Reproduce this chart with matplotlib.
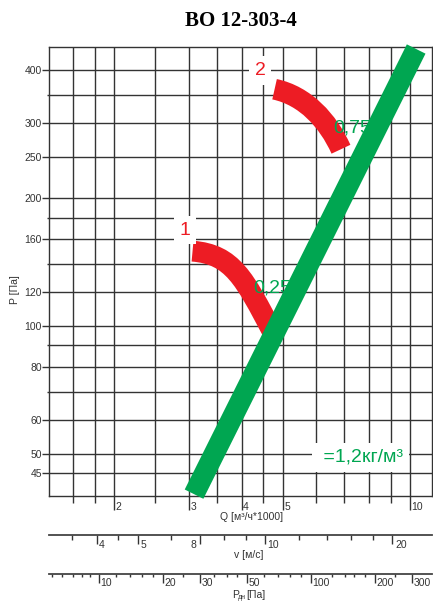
import matplotlib
matplotlib.use('Agg')
import matplotlib.pyplot as plt
from matplotlib.path import Path
from matplotlib.patches import PathPatch
from matplotlib.ticker import FixedLocator, FixedFormatter, NullFormatter
from matplotlib.transforms import blended_transform_factory, offset_copy

plt.rcParams['font.family'] = ['Liberation Sans', 'DejaVu Sans']

# Q grid [m3/h*1000] and P grid [Pa]
q_major = [2, 3, 4, 5, 10]
q_minor = [1.6, 1.8, 2.5, 3.5, 4.5, 6, 7, 8, 9]
p_major = [45, 50, 60, 80, 100, 120, 160, 200, 250, 300, 400]
p_minor = [70, 90, 140, 180, 350]

# velocity scale [m/s]
v_major = [4, 5, 7, 10, 20]
v_labels = ['4', '5', '8', '10', '20']
v_label_ha = ['left', 'left', 'right', 'left', 'left']
v_minor = [3.5, 4.5, 6, 8, 9, 12, 14, 16, 18]

# dynamic pressure scale [Pa]
pd_major = [10, 20, 30, 50, 100, 200, 300]
pd_minor = [6, 6.7, 7.5, 8.3, 9.1, 12, 14, 16, 18, 25, 35, 40, 45,
            60, 70, 80, 90, 125, 145, 160, 180, 250]

# system line (rho = 1.2 kg/m3)
sys_q = [3.087, 10.34]
sys_p = [40.2, 448.6]

# fan curves: start, two bezier handles, end
curve1_q = [3.062, 3.805, 4.065, 4.733]
curve1_p = [150.0, 147.5, 129.1, 96.8]
curve2_q = [4.785, 5.656, 6.398, 6.867]
curve2_p = [360.7, 348.3, 304.3, 260.6]

RED = '#ED1C24'
GREEN = '#00A651'
GRID = '#333333'
TXT = '#333333'

W, H = 433, 601
fig = plt.figure(figsize=(W / 100, H / 100), dpi=100)

ax = fig.add_axes([49 / W, 1 - 496 / H, 383 / W, 449 / H])
ax.set_xscale('log')
ax.set_yscale('log')
ax.set_xlim(1.402, 11.27)
ax.set_ylim(39.8, 453.5)

ax.xaxis.set_major_locator(FixedLocator(q_major))
ax.xaxis.set_minor_locator(FixedLocator(q_minor))
ax.xaxis.set_major_formatter(NullFormatter())
ax.xaxis.set_minor_formatter(NullFormatter())
ax.yaxis.set_major_locator(FixedLocator(p_major))
ax.yaxis.set_major_formatter(FixedFormatter([str(p) for p in p_major]))
ax.yaxis.set_minor_locator(FixedLocator(p_minor))
ax.yaxis.set_minor_formatter(NullFormatter())

ax.grid(True, which='both', color=GRID, lw=1.0)
ax.tick_params(axis='x', which='major', length=10, width=1, color=GRID)
ax.tick_params(axis='x', which='minor', length=4.8, width=1, color=GRID)
ax.tick_params(axis='y', which='major', length=4.7, width=1, color=GRID,
               labelsize=7.5, labelcolor=TXT, pad=0.5)
ax.tick_params(axis='y', which='minor', length=1.7, width=1, color=GRID)
for s in ax.spines.values():
    s.set_color(GRID)
    s.set_linewidth(1.0)

# Q tick labels
qtrans = offset_copy(ax.get_xaxis_transform(), fig=fig, x=1.5, y=0, units='dots')
for q in q_major:
    ax.text(q, -14 / 449, str(q), transform=qtrans, ha='left', va='baseline',
            fontsize=7.5, color=TXT)
fig.text(252 / W, 1 - 517 / H, 'Q [м³/ч*1000]', ha='center', va='center',
         fontsize=7.5, color=TXT)

# curves
codes = [Path.MOVETO, Path.CURVE4, Path.CURVE4, Path.CURVE4]
for cq, cp in [(curve1_q, curve1_p), (curve2_q, curve2_p)]:
    path = Path(list(zip(cq, cp)), codes)
    ax.add_patch(PathPatch(path, fill=False, ec=RED, lw=15, capstyle='butt',
                           joinstyle='round', zorder=3))
ax.text(4.256, 119.6, '0,25', color=GREEN, fontsize=14, ha='left',
        va='baseline', zorder=4)
ax.text(6.58, 286, '0,75', color=GREEN, fontsize=14, ha='left',
        va='baseline', zorder=4)
ax.plot(sys_q, sys_p, color=GREEN, lw=15, solid_capstyle='butt', zorder=5,
        clip_on=False)

box = dict(boxstyle='square,pad=0.3', fc='white', ec='none')
ax.text(2.940, 168.2, '1', color=RED, fontsize=14, ha='center', va='center',
        bbox=box, zorder=6)
ax.text(4.421, 399.3, '2', color=RED, fontsize=14, ha='center', va='center',
        bbox=box, zorder=6)
ax.text(6.05, 47.86, ' =1,2кг/м³', color=GREEN, fontsize=14, ha='left',
        va='baseline', bbox=box, zorder=6)

# velocity scale
ax_v = fig.add_axes([49 / W, 1 - 534.7 / H, 383 / W, 0.0001])
ax_v.set_xscale('log')
ax_v.set_xlim(1.402 / 0.4544, 11.27 / 0.4544)
ax_v.set_yticks([])
ax_v.patch.set_visible(False)
for k in ['top', 'left', 'right']:
    ax_v.spines[k].set_visible(False)
ax_v.spines['bottom'].set_color('#444444')
ax_v.spines['bottom'].set_linewidth(1.3)
ax_v.xaxis.set_major_locator(FixedLocator(v_major))
ax_v.xaxis.set_minor_locator(FixedLocator(v_minor))
ax_v.xaxis.set_major_formatter(NullFormatter())
ax_v.xaxis.set_minor_formatter(NullFormatter())
ax_v.tick_params(axis='x', which='major', length=6.7, width=1, color=GRID)
ax_v.tick_params(axis='x', which='minor', length=3.3, width=1, color=GRID)
vt = blended_transform_factory(ax_v.transData, fig.transFigure)
for v, lab, ha in zip(v_major, v_labels, v_label_ha):
    dx = 2.5 if ha == 'left' else -3
    ax_v.text(v, 1 - 548.3 / H, lab, transform=offset_copy(vt, fig=fig, x=dx, y=0, units='dots'),
              ha=ha, va='baseline', fontsize=7.5, color=TXT)
fig.text(249 / W, 1 - 555 / H, 'v [м/с]', ha='center', va='center',
         fontsize=7.5, color=TXT)

# dynamic pressure scale
ax_p = fig.add_axes([49 / W, 1 - 574 / H, 383 / W, 0.0001])
ax_p.set_xscale('log')
ax_p.set_xlim(5.809, 372.2)
ax_p.set_yticks([])
ax_p.patch.set_visible(False)
for k in ['top', 'left', 'right']:
    ax_p.spines[k].set_visible(False)
ax_p.spines['bottom'].set_color('#444444')
ax_p.spines['bottom'].set_linewidth(1.3)
ax_p.xaxis.set_major_locator(FixedLocator(pd_major))
ax_p.xaxis.set_minor_locator(FixedLocator(pd_minor))
ax_p.xaxis.set_major_formatter(NullFormatter())
ax_p.xaxis.set_minor_formatter(NullFormatter())
ax_p.tick_params(axis='x', which='major', length=6.3, width=1, color=GRID)
ax_p.tick_params(axis='x', which='minor', length=2.4, width=1, color=GRID)
pt = offset_copy(blended_transform_factory(ax_p.transData, fig.transFigure),
                 fig=fig, x=1.5, y=0, units='dots')
for p in pd_major:
    ax_p.text(p, 1 - 586.0 / H, str(p), transform=pt, ha='left',
              va='baseline', fontsize=7.5, color=TXT)
# P_дн [Па] label, subscript as a separate smaller text
fig.text(232 / W, 1 - 598 / H, 'P', ha='left', va='baseline',
         fontsize=7.5, color=TXT)
fig.text(237.5 / W, 1 - 599.3 / H, 'дн', ha='left', va='baseline',
         fontsize=5, color=TXT)
fig.text(246 / W, 1 - 598 / H, '[Па]', ha='left', va='baseline',
         fontsize=7.5, color=TXT)

fig.text(15.5 / W, 1 - 290 / H, 'P [Па]', rotation=90, ha='center',
         va='center', fontsize=7.5, color=TXT)
fig.text(241 / W, 1 - 26 / H, 'ВО 12-303-4', ha='center', va='baseline',
         fontsize=15, fontweight='bold', family='Liberation Serif')

fig.savefig('out.png', dpi=100)
